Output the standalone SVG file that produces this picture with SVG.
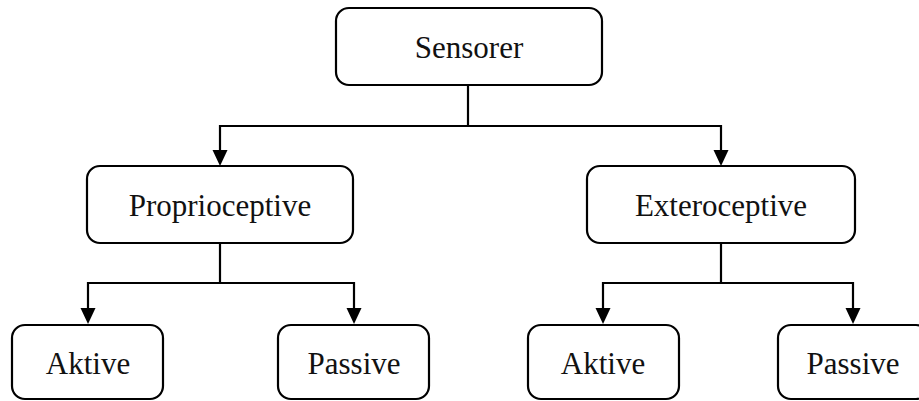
<svg xmlns="http://www.w3.org/2000/svg" width="919" height="401" viewBox="0 0 919 401">
<style>
.box{fill:#fff;stroke:#000;stroke-width:2.2}
.t{font-family:"Liberation Serif","Times New Roman",serif;font-size:31px;fill:#111;text-anchor:middle}
.c{fill:none;stroke:#000;stroke-width:2.2}
.ah{fill:#000}
</style>
<g id="connectors">
<path class="c" d="M468,85 V126"/>
<path class="c" d="M468,126 H220 V150"/>
<path class="c" d="M468,126 H721 V150"/>
<path class="ah" d="M212.5,150 L227.5,150 L220,166 Z"/>
<path class="ah" d="M713.5,150 L728.5,150 L721,166 Z"/>
<path class="c" d="M220,243 V283 H88 V308"/>
<path class="c" d="M220,283 H354 V308"/>
<path class="ah" d="M80.5,308 L95.5,308 L88,324 Z"/>
<path class="ah" d="M346.5,308 L361.5,308 L354,324 Z"/>
<path class="c" d="M721,243 V283 H603 V308"/>
<path class="c" d="M721,283 H853 V308"/>
<path class="ah" d="M595.5,308 L610.5,308 L603,324 Z"/>
<path class="ah" d="M845.5,308 L860.5,308 L853,324 Z"/>
</g>
<g id="sensorer">
<rect class="box" x="336" y="8" width="266" height="77" rx="13"/>
<text class="t" x="469" y="58">Sensorer</text>
</g>
<g id="proprioceptive">
<rect class="box" x="87" y="166" width="266" height="77" rx="13"/>
<text class="t" x="220" y="216">Proprioceptive</text>
</g>
<g id="exteroceptive">
<rect class="box" x="587" y="166" width="268" height="77" rx="13"/>
<text class="t" x="721" y="216">Exteroceptive</text>
</g>
<g id="aktive1">
<rect class="box" x="12" y="325" width="151" height="74" rx="13"/>
<text class="t" x="88" y="374">Aktive</text>
</g>
<g id="passive1">
<rect class="box" x="278" y="325" width="151" height="74" rx="13"/>
<text class="t" x="354" y="374">Passive</text>
</g>
<g id="aktive2">
<rect class="box" x="528" y="325" width="151" height="74" rx="13"/>
<text class="t" x="603" y="374">Aktive</text>
</g>
<g id="passive2">
<rect class="box" x="778" y="325" width="151" height="74" rx="13"/>
<text class="t" x="853" y="374">Passive</text>
</g>
</svg>
